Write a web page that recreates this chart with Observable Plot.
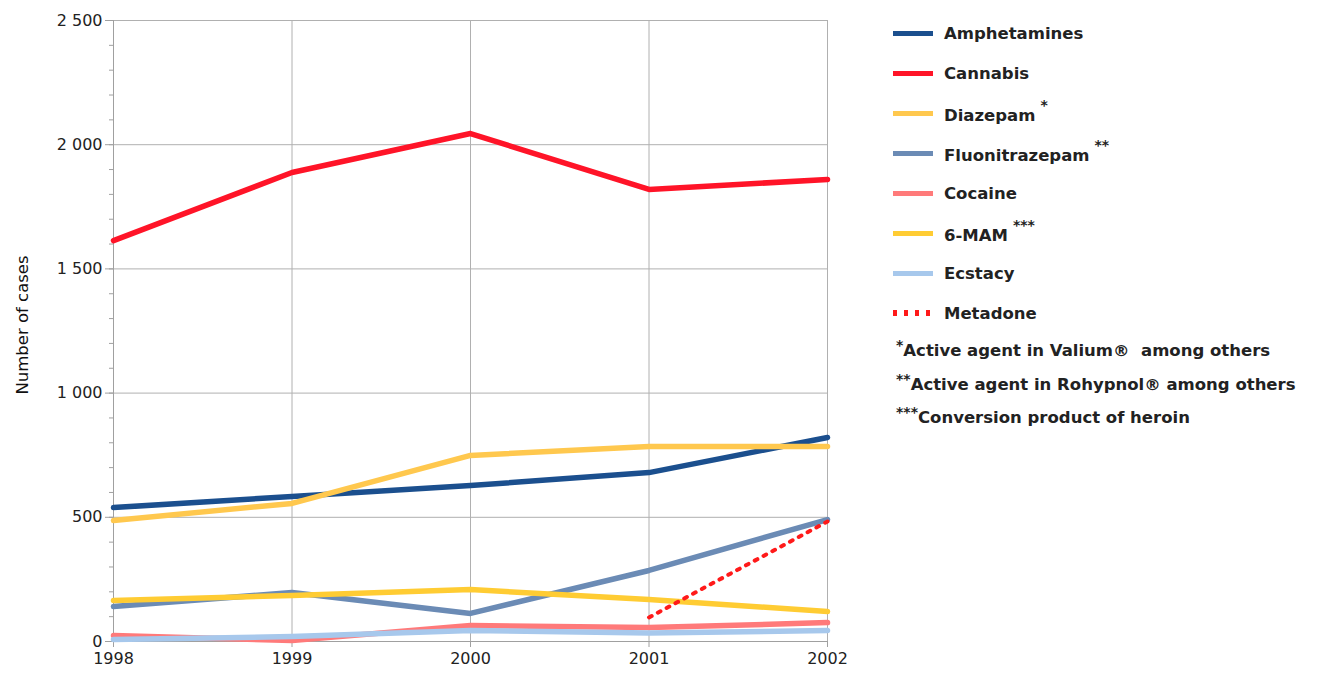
<!DOCTYPE html>
<html>
<head>
<meta charset="utf-8">
<script src="https://cdn.jsdelivr.net/npm/d3@7"></script>
<script src="https://cdn.jsdelivr.net/npm/@observablehq/plot@0.6"></script>
<style>
  html, body { margin: 0; padding: 0; background: #fff; }
  #wrap { position: relative; width: 1324px; height: 675px; font-family: "DejaVu Sans", Verdana, sans-serif; }
  #chart { position: absolute; left: 0; top: 0; }
  .row { position: absolute; left: 893px; height: 40px; display: flex; align-items: center; font-weight: bold; font-size: 16.5px; color: #222; }
  .sw { width: 40px; height: 5px; margin-right: 11px; }
  .row sup { font-size: 14px; position: relative; top: -4px; margin-left: 5px; }
  .note { position: absolute; left: 896px; font-weight: bold; font-size: 16.5px; color: #222; white-space: pre; }
  .note sup { font-size: 14px; vertical-align: 0; position: relative; top: -6px; }
</style>
</head>
<body>
<div id="wrap"><div id="chart"></div></div>
<script>
const years = [1998, 1999, 2000, 2001, 2002];
const seriesNames = ["Amphetamines", "Cannabis", "Diazepam", "Fluonitrazepam", "Cocaine", "6-MAM", "Ecstacy"];
const seriesMarks = ["", "", "*", "**", "", "***", ""];
const seriesColors = ["#1b4f8e", "#ff1428", "#ffc84e", "#6b8bb5", "#ff7a7a", "#ffcc33", "#a7c8ec"];
const amphetamines = [539, 584, 628, 680, 821];
const cannabis = [1614, 1888, 2045, 1820, 1860];
const diazepam = [487, 556, 749, 785, 785];
const fluonitrazepam = [141, 197, 113, 286, 491];
const cocaine = [24, 4, 64, 56, 76];
const mam6 = [165, 185, 209, 169, 121];
const ecstacy = [8, 20, 44, 34, 44];
const metadoneYears = [2001, 2002];
const metadone = [97, 483];
const metadoneColor = "#ff1a1a";
const yTicks = [0, 500, 1000, 1500, 2000, 2500];
const footnotes = [
  ["*", "Active agent in Valium\u00AE  among others"],
  ["**", "Active agent in Rohypnol\u00AE among others"],
  ["***", "Conversion product of heroin"]
];

const valueArrays = [amphetamines, cannabis, diazepam, fluonitrazepam, cocaine, mam6, ecstacy];
const data = [];
seriesNames.forEach((s, i) => years.forEach((y, j) => data.push({series: s, year: y, value: valueArrays[i][j]})));
const metaData = metadoneYears.map((y, j) => ({year: y, value: metadone[j]}));

const fmt = d => d3.format(",")(d).replace(/,/g, " ");

const chart = Plot.plot({
  width: 870,
  height: 675,
  marginLeft: 113,
  marginRight: 43,
  marginTop: 20,
  marginBottom: 34,
  style: {fontFamily: "'DejaVu Sans', Verdana, sans-serif", fontSize: "16px", color: "#222", background: "#fff"},
  x: {domain: [1998, 2002], label: null},
  y: {domain: [0, 2500], label: null},
  color: {domain: seriesNames, range: seriesColors},
  marks: [
    Plot.gridY(yTicks, {stroke: "#b0b0b0", strokeOpacity: 1}),
    Plot.gridX(years, {stroke: "#b0b0b0", strokeOpacity: 1}),
    Plot.ruleX([1998], {stroke: "#a0a0a0"}),
    Plot.ruleY([0], {stroke: "#a0a0a0"}),
    Plot.axisY({ticks: d3.range(0, 2501, 100), tickSize: 4, text: null, stroke: "#a0a0a0"}),
    Plot.axisY({ticks: yTicks, tickSize: 8, tickPadding: 3, tickFormat: fmt, stroke: "#a0a0a0", fill: "#222", label: null}),
    Plot.axisX({ticks: years, tickSize: 6, tickPadding: 5, tickFormat: d => String(d), stroke: "#a0a0a0", fill: "#222", label: null}),
    Plot.text(["Number of cases"], {frameAnchor: "left", textAnchor: "middle", dx: -91, dy: -6, rotate: -90, fontSize: 16.5, fill: "#111"}),
    Plot.line(data, {x: "year", y: "value", z: "series", stroke: "series", strokeWidth: 5.5, strokeLinejoin: "round"}),
    Plot.line(metaData, {x: "year", y: "value", stroke: metadoneColor, strokeWidth: 4, strokeDasharray: "3,7"})
  ]
});
document.getElementById("chart").appendChild(chart);

const wrap = document.getElementById("wrap");
seriesNames.forEach((s, i) => {
  const row = document.createElement("div");
  row.className = "row";
  row.style.top = (13 + i * 40) + "px";
  row.innerHTML = `<div class="sw" style="background:${seriesColors[i]}"></div><span>${s}${seriesMarks[i] ? "<sup>" + seriesMarks[i] + "</sup>" : ""}</span>`;
  wrap.appendChild(row);
});
const mrow = document.createElement("div");
mrow.className = "row";
mrow.style.top = (13 + 7 * 40) + "px";
mrow.innerHTML = `<div class="sw" style="background:repeating-linear-gradient(90deg, ${metadoneColor} 0 4px, transparent 4px 11px); height:6px"></div><span>Metadone</span>`;
wrap.appendChild(mrow);
footnotes.forEach((f, i) => {
  const n = document.createElement("div");
  n.className = "note";
  n.style.top = [341, 375, 408][i] + "px";
  n.innerHTML = `<sup>${f[0]}</sup>${f[1]}`;
  wrap.appendChild(n);
});
</script>
</body>
</html>
